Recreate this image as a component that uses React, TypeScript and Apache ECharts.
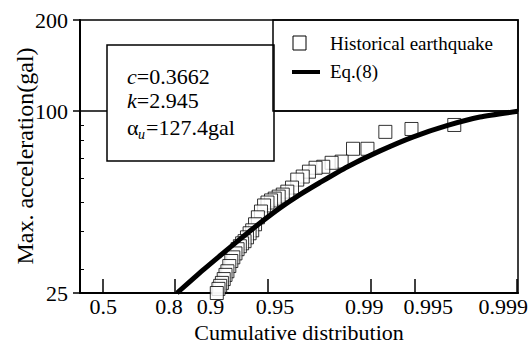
import React, { useEffect, useRef } from 'react';
import * as echarts from 'echarts';

const FONT = 'Liberation Serif';

// x-axis tick marks (cumulative probability) and their labels
const xTickProbs = [0.5, 0.8, 0.9, 0.95, 0.99, 0.995, 0.999];
const xTickLabels = ['0.5', '0.8', '0.9', '0.95', '0.99', '0.995', '0.999'];
const xLabelShift = [0, -6, -12, 7, -7, 13, -14];

// y-axis (log) ticks
const yTickValues = [25, 100, 200];
const yMinorTickValues = [30, 40, 50, 60, 70, 80, 90];

// Historical earthquake: cumulative probability vs max. acceleration (gal)
const quakeProb = [
  0.9973, 0.9947, 0.992, 0.9894, 0.9867, 0.9841, 0.9814, 0.9788, 0.9761, 0.9735,
  0.9708, 0.9682, 0.9655, 0.9629, 0.9602, 0.9576, 0.9549, 0.9523, 0.9496, 0.9469,
  0.9443, 0.9416, 0.939, 0.9363, 0.9337, 0.931, 0.9284, 0.9257, 0.9231, 0.9204,
  0.9178, 0.9151, 0.9125, 0.9098, 0.9072, 0.9045, 0.9019, 0.8992, 0.8966, 0.8939,
  0.8912,
];
const quakeAccel = [
  89.9, 87.2, 85.3, 75.0, 75.0, 68.0, 67.4, 65.4, 64.9, 63.0,
  60.7, 59.3, 55.8, 54.1, 52.9, 52.1, 51.3, 50.6, 49.8, 48.7,
  46.5, 44.5, 42.2, 40.3, 39.4, 38.2, 37.1, 36.5, 35.7, 34.9,
  33.8, 32.8, 31.9, 30.7, 29.5, 28.7, 27.8, 27.0, 26.4, 25.8,
  25.0,
];

// Eq.(8) curve
const eqProb = [0.8057, 0.8606, 0.8963, 0.9233, 0.9435, 0.9585, 0.9695, 0.9777, 0.9854, 0.9913, 0.9948, 0.997, 0.9982, 0.99901];
const eqAccel = [25, 29.2, 33.2, 37.7, 42.6, 47.8, 52.9, 58.0, 65.3, 73.8, 82.0, 89.6, 95.5, 99.8];

const gumbel = (p: number) => -Math.log(-Math.log(p));

export default function App() {
  const ref = useRef<HTMLDivElement>(null);

  useEffect(() => {
    if (!ref.current) return;
    const chart = echarts.init(ref.current, undefined, { renderer: 'svg' });

    const xTicks = xTickProbs.map(gumbel);
    const rich: Record<string, any> = {};
    xTickLabels.forEach((_, i) => {
      const d = xLabelShift[i];
      rich['s' + i] = {
        fontSize: 22,
        fontFamily: FONT,
        color: '#000',
        padding: d >= 0 ? [0, 0, 0, 2 * d] : [0, -2 * d, 0, 0],
      };
    });

    const option: any = {
      animation: false,
      backgroundColor: '#fff',
      textStyle: { fontFamily: FONT, color: '#000' },
      grid: {
        left: 80, top: 20, width: 438, height: 273,
        containLabel: false,
        outerBoundsMode: 'none',
        show: true, borderColor: '#000', borderWidth: 1.5,
      },
      xAxis: {
        type: 'value', min: 0, max: 6.92,
        axisLine: { show: true, lineStyle: { color: '#000', width: 2 } },
        axisTick: { show: true, inside: true, length: 14, customValues: xTicks, lineStyle: { color: '#000', width: 1.5 } },
        axisLabel: {
          customValues: xTicks,
          margin: 2,
          fontSize: 22,
          fontFamily: FONT,
          color: '#000',
          formatter: (v: number) => {
            let best = 0;
            xTicks.forEach((t, i) => { if (Math.abs(t - v) < Math.abs(xTicks[best] - v)) best = i; });
            return '{s' + best + '|' + xTickLabels[best] + '}';
          },
          rich,
        },
        splitLine: { show: false },
        name: 'Cumulative distribution',
        nameLocation: 'middle',
        nameGap: 28,
        nameTextStyle: { fontSize: 22, fontFamily: FONT, color: '#000' },
      },
      yAxis: [
        {
          type: 'log', logBase: 10, min: 25, max: 200,
          axisLine: { show: true, lineStyle: { color: '#000', width: 2 } },
          axisTick: { show: true, inside: false, length: 7, customValues: yTickValues, lineStyle: { color: '#000', width: 1.5 } },
          axisLabel: { customValues: yTickValues, margin: 12, fontSize: 22, fontFamily: FONT, color: '#000' },
          splitLine: { show: false },
          minorTick: { show: false },
        },
        {
          type: 'log', logBase: 10, min: 25, max: 200, position: 'left',
          axisLine: { show: false },
          axisTick: { show: true, inside: true, length: 4, customValues: yMinorTickValues, lineStyle: { color: '#000', width: 1 } },
          axisLabel: { show: false },
          splitLine: { show: false },
        },
      ],
      series: [
        {
          name: 'Historical earthquake',
          type: 'scatter',
          symbol: 'rect',
          symbolSize: 13,
          clip: false,
          itemStyle: { color: '#fff', borderColor: '#000', borderWidth: 1 },
          data: quakeProb.map((p, i) => [gumbel(p), quakeAccel[i]]),
          z: 3,
        },
        {
          name: 'Eq.(8)',
          type: 'line',
          smooth: 0.2,
          showSymbol: false,
          symbol: 'none',
          lineStyle: { color: '#000', width: 5 },
          data: eqProb.map((p, i) => [gumbel(p), eqAccel[i]]),
          z: 4,
          markLine: {
            silent: true,
            symbol: ['none', 'none'],
            label: { show: false },
            lineStyle: { color: '#000', width: 1.5, type: 'solid' },
            data: [{ yAxis: 100 }],
            z: 1,
          },
        },
      ],
      graphic: [
        // annotation box
        {
          type: 'rect', z: 100,
          shape: { x: 107, y: 45, width: 167, height: 116 },
          style: { fill: '#fff', stroke: '#000', lineWidth: 1.5 },
        },
        {
          type: 'text', z: 101, x: 127, y: 76,
          style: {
            text: '{i|c}{n|=0.3662}', verticalAlign: 'middle',
            rich: {
              i: { fontSize: 22, fontFamily: FONT, fontStyle: 'italic', fill: '#000' },
              n: { fontSize: 22, fontFamily: FONT, fill: '#000' },
            },
          },
        },
        {
          type: 'text', z: 101, x: 127, y: 100,
          style: {
            text: '{i|k}{n|=2.945}', verticalAlign: 'middle',
            rich: {
              i: { fontSize: 22, fontFamily: FONT, fontStyle: 'italic', fill: '#000' },
              n: { fontSize: 22, fontFamily: FONT, fill: '#000' },
            },
          },
        },
        {
          type: 'text', z: 101, x: 127, y: 127,
          style: { text: 'α', fontSize: 22, fontFamily: FONT, fill: '#000', verticalAlign: 'middle' },
        },
        {
          type: 'text', z: 101, x: 138, y: 134,
          style: { text: 'u', fontSize: 14, fontFamily: FONT, fontStyle: 'italic', fill: '#000', verticalAlign: 'middle' },
        },
        {
          type: 'text', z: 101, x: 146, y: 127,
          style: { text: '=127.4gal', fontSize: 22, fontFamily: FONT, fill: '#000', verticalAlign: 'middle' },
        },
        // legend box
        {
          type: 'rect', z: 100,
          shape: { x: 273, y: 20, width: 245, height: 91 },
          style: { fill: 'none', stroke: '#000', lineWidth: 1.5 },
        },
        {
          type: 'rect', z: 101,
          shape: { x: 293, y: 36, width: 13, height: 14 },
          style: { fill: '#fff', stroke: '#000', lineWidth: 1 },
        },
        {
          type: 'text', z: 101, x: 330, y: 43,
          style: { text: 'Historical earthquake', fontSize: 19, fontFamily: FONT, fill: '#000', verticalAlign: 'middle' },
        },
        {
          type: 'line', z: 101,
          shape: { x1: 292, y1: 72, x2: 320, y2: 72 },
          style: { stroke: '#000', lineWidth: 4 },
        },
        {
          type: 'text', z: 101, x: 330, y: 71,
          style: { text: 'Eq.(8)', fontSize: 19, fontFamily: FONT, fill: '#000', verticalAlign: 'middle' },
        },
        // y-axis title
        {
          type: 'text', z: 101, x: 25, y: 156, rotation: Math.PI / 2,
          style: { text: 'Max. acceleration(gal)', fontSize: 24, fontFamily: FONT, fill: '#000', align: 'center', verticalAlign: 'middle' },
        },
      ],
    };

    chart.setOption(option);
    return () => chart.dispose();
  }, []);

  return (
    <div
      ref={ref}
      style={{ position: 'absolute', left: 0, top: 0, width: 531, height: 344, background: '#fff' }}
    />
  );
}
